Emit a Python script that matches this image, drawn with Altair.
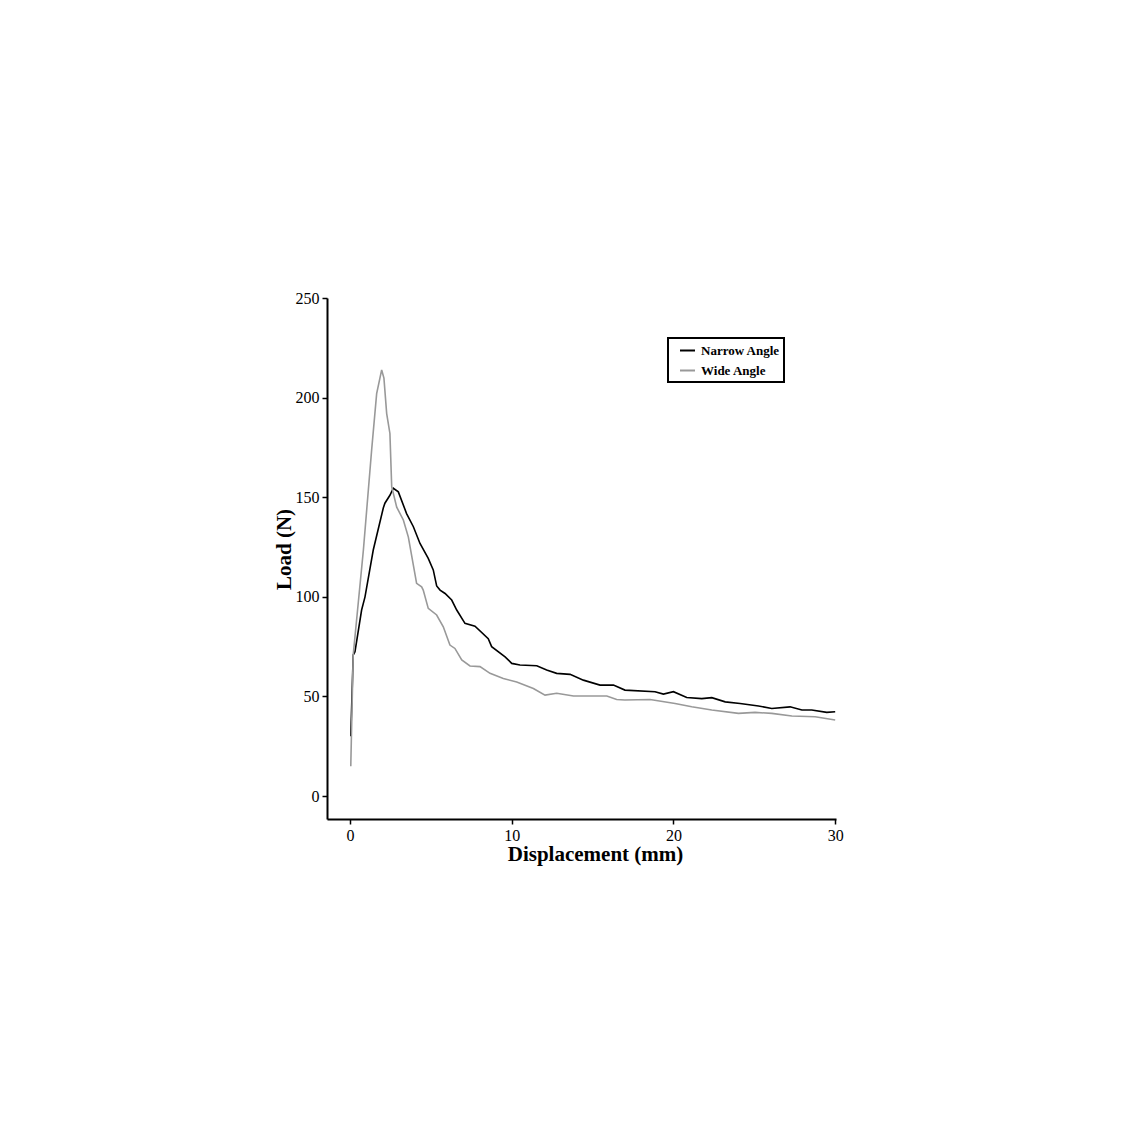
import altair as alt
import pandas as pd

narrow_x = [0.05, 0.2, 0.31, 0.72, 0.93, 1.44, 2.06, 2.16, 2.47, 2.68, 2.99, 3.5, 3.92, 4.33, 4.84,
            5.15, 5.36, 5.57, 5.88, 6.29, 6.6, 7.11, 7.73, 8.55, 8.76, 9.59, 10.0, 10.51, 11.55,
            12.16, 12.78, 13.61, 14.43, 15.46, 16.29, 17.0, 18.86, 19.38, 20.0, 20.82, 21.75,
            22.37, 23.2, 24.12, 25.26, 26.08, 27.21, 27.94, 28.55, 29.48, 30.0]
narrow_y = [30, 70.8, 72.5, 93.4, 100, 123.5, 144.6, 147, 151, 154.5, 152.7, 141.8, 135.2, 126.8, 119.3,
            113.5, 105.5, 103.4, 101.7, 98.4, 93.4, 86.7, 85.3, 79, 75, 69.9, 66.6, 65.8, 65.4,
            63.3, 61.6, 61.1, 58.2, 55.7, 55.7, 53.2, 52.4, 51.2, 52.4, 49.5, 48.9,
            49.4, 47.3, 46.5, 45.2, 44.0, 44.8, 43.2, 43.2, 42.0, 42.3]

wide_x = [0.05, 0.2, 0.83, 1.34, 1.65, 1.96, 2.1, 2.27, 2.47, 2.58, 2.89, 3.3, 3.61, 4.12, 4.43,
          4.53, 4.84, 5.36, 5.77, 6.18, 6.49, 6.91, 7.42, 8.04, 8.66, 9.48, 10.31, 11.34, 12.06,
          12.78, 13.82, 14.84, 15.88, 16.49, 17.0, 18.55, 20.1, 21.13, 22.37, 24.02, 25.05,
          26.08, 27.32, 28.76, 30.0]
wide_y = [15, 70.8, 123.5, 173.7, 202, 213.9, 209.8, 192, 182, 155.3, 145, 138.6, 130, 106.8, 105,
          103.4, 94.2, 90.9, 85, 75.8, 74.1, 68.3, 65.3, 65, 61.6, 59, 57.3, 54, 50.7,
          51.6, 50.2, 50.2, 50.2, 48.5, 48.2, 48.5, 46.5, 44.8, 43.2, 41.5, 42,
          41.5, 40.2, 39.8, 38.2]

series = ["Narrow Angle", "Wide Angle"]
colors = ["#000000", "#999999"]

df = pd.concat([
    pd.DataFrame({"x": narrow_x, "y": narrow_y, "s": series[0], "o": range(len(narrow_x))}),
    pd.DataFrame({"x": wide_x, "y": wide_y, "s": series[1], "o": range(len(wide_x))}),
])

font = "Liberation Serif"

chart = alt.Chart(df).mark_line(strokeWidth=1.6, clip=True).encode(
    x=alt.X("x:Q", title="Displacement (mm)",
            scale=alt.Scale(domain=[-1.42, 30.05], nice=False, zero=False),
            axis=alt.Axis(values=[0, 10, 20, 30], format="d", grid=False,
                          labelFlush=False, titleX=268)),
    y=alt.Y("y:Q", title="Load (N)",
            scale=alt.Scale(domain=[-11.5, 250], nice=False, zero=False),
            axis=alt.Axis(values=[0, 50, 100, 150, 200, 250], format="d", grid=False,
                          labelFlush=False, titleY=251)),
    color=alt.Color("s:N", scale=alt.Scale(domain=series, range=colors),
                    legend=alt.Legend(title=None, orient="none", legendX=341, legendY=40,
                                      symbolType="stroke", symbolStrokeWidth=2, symbolSize=225,
                                      symbolOffset=7,
                                      labelFont=font, labelFontWeight="bold", labelFontSize=13,
                                      labelColor="#000000", labelOffset=5,
                                      strokeColor="#000000", fillColor="#ffffff",
                                      padding=4, rowPadding=4)),
    order="o:Q",
).properties(
    width=509, height=521,
    autosize=alt.AutoSizeParams(type="none"),
    padding={"left": 319, "top": 290, "right": 10, "bottom": 80},
).configure_view(stroke=None).configure_axis(
    domainColor="#000000", domainWidth=2, tickColor="#000000", tickWidth=1.5, tickSize=5,
    labelFont=font, labelFontSize=16, labelColor="#000000", labelPadding=3,
    titleFont=font, titleFontSize=21, titleFontWeight="bold", titleColor="#000000",
).configure_axisX(titlePadding=0).configure_axisY(titlePadding=1).configure_legend(
    strokeWidth=2
)

chart.save("out.html", embed_options={"renderer": "svg", "actions": False})
